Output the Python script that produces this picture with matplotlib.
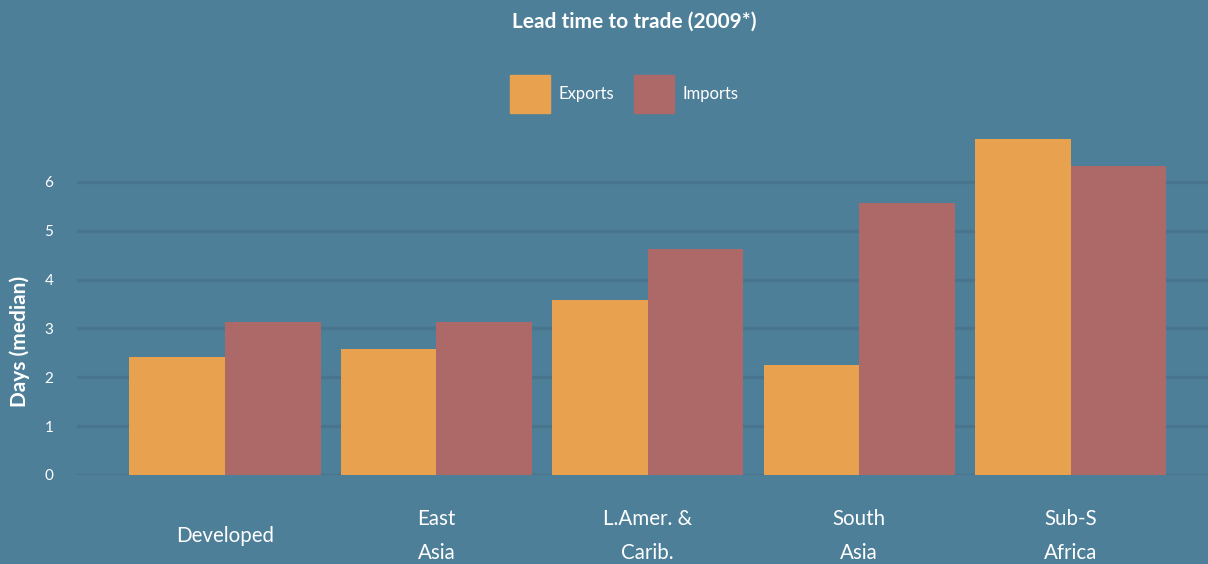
import numpy as np
import matplotlib.pyplot as plt
from matplotlib.patches import Patch

# data
regions = ['Developed', 'East\nAsia', 'L.Amer. &\nCarib.', 'South\nAsia', 'Sub-S\nAfrica']
exports = [2.42, 2.58, 3.58, 2.25, 6.88]
imports = [3.13, 3.13, 4.63, 5.57, 6.33]

bg = '#4e7f99'
c_exp = '#e8a24f'
c_imp = '#ad6968'
grid_c = '#48748d'

plt.rcParams['font.family'] = ['Lato', 'DejaVu Sans']

fig = plt.figure(figsize=(12.08, 5.64), dpi=100, facecolor=bg)
ax = fig.add_axes([77 / 1208, 1 - 475 / 564, (1208 - 77) / 1208, (475 - 133) / 564])
ax.set_facecolor(bg)

x = np.arange(len(regions))
w = 0.4525
ax.bar(x - w / 2, exports, w, color=c_exp, zorder=3)
ax.bar(x + w / 2, imports, w, color=c_imp, zorder=3)

ax.set_xlim(-0.7, 4.65)
ax.set_ylim(0, 7)
ax.set_yticks(range(0, 7))
ax.grid(axis='y', color=grid_c, linewidth=2.5, zorder=0)
ax.tick_params(axis='y', length=0, pad=17, labelcolor='white', labelsize=11)
ax.set_xticks([])
for s in ax.spines.values():
    s.set_visible(False)

# category labels under the bars
for i, lab in enumerate(regions):
    ax.text(i, -1.25, lab, ha='center', va='center', color='white',
            fontsize=14.8, linespacing=1.85)

fig.text(20 / 1208, 1 - 341 / 564, 'Days (median)', rotation=90, ha='center', va='center',
         color='white', fontsize=15, fontweight='bold')

fig.text(634 / 1208, 1 - 22 / 564, 'Lead time to trade (2009*)', ha='center', va='center',
         color='white', fontsize=15, fontweight='bold')

handles = [Patch(color=c_exp, label='Exports'), Patch(color=c_imp, label='Imports')]
leg = fig.legend(handles=handles, loc='center', bbox_to_anchor=(624 / 1208, 1 - 94 / 564),
                 ncol=2, frameon=False, fontsize=12, handlelength=2.4, handleheight=3.1,
                 handletextpad=0.5, columnspacing=1.2)
for t in leg.get_texts():
    t.set_color('white')

fig.savefig('out.png', dpi=100, facecolor=bg)
